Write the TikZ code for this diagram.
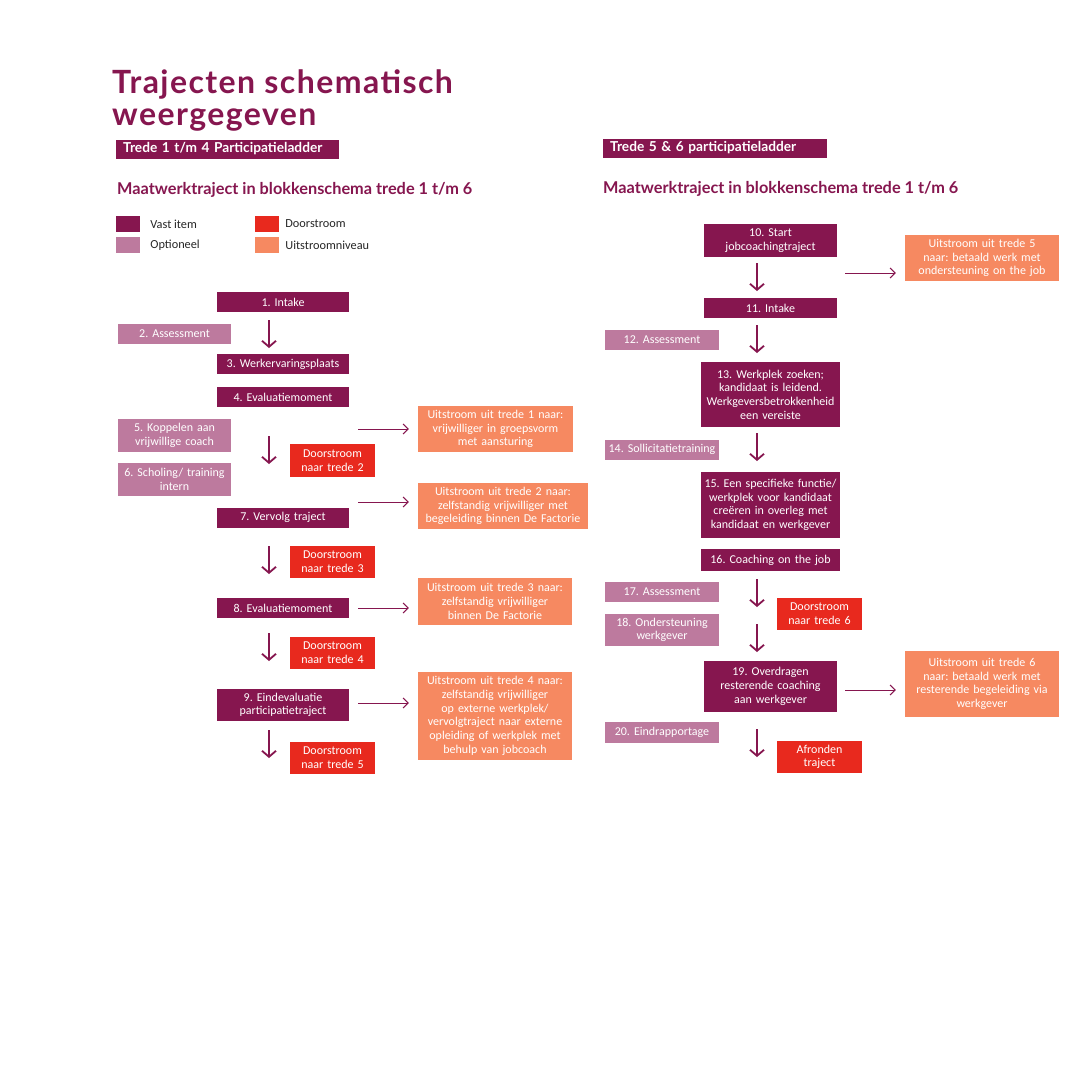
\documentclass[tikz,border=0pt]{standalone}
\usepackage{fontspec}
\setmainfont{Carlito}
\newfontfamily\headfont{Lato}
\newfontfamily\titlefont{Lato}[LetterSpace=4.5]
\usetikzlibrary{arrows.meta, positioning}
\definecolor{vast}{HTML}{86164F}
\definecolor{optie}{HTML}{BD7A9E}
\definecolor{door}{HTML}{E8291E}
\definecolor{uit}{HTML}{F68961}
\tikzset{
  box/.style={inner sep=0pt, align=center, text=white, font=\fontsize{12}{13.7}\selectfont},
  vast/.style={box, fill=vast},
  opt/.style={box, fill=optie},
  door/.style={box, fill=door, text width=85pt},
  uit/.style={box, fill=uit},
  swatch/.style={inner sep=0pt, minimum width=24pt, minimum height=16pt},
  legend/.style={inner sep=0pt, text=black!85, font=\fontsize{12.3}{14}\selectfont},
  banner/.style={fill=vast, text=white, inner xsep=7pt, inner ysep=0pt, minimum height=19pt,
    align=left, font=\headfont\bfseries\fontsize{13.7}{15}\selectfont},
  heading/.style={inner sep=0pt, anchor=base west, text=vast, font=\headfont\bfseries\fontsize{16.3}{18}\selectfont},
  title/.style={inner sep=0pt, anchor=base west, text=vast, font=\titlefont\bfseries\fontsize{32}{32}\selectfont},
  down/.style={draw=vast, line width=1.8pt, -{Straight Barb[length=6pt,width=14pt]}},
  hop/.style={draw=vast, line width=1pt, shorten >=9pt, -{Straight Barb[length=5pt,width=10pt]}}
}
\begin{document}
\frenchspacing
\begin{tikzpicture}[x=1pt, y=-1pt]
  \fill[white] (0,0) rectangle (1080,1080);
  \useasboundingbox (0,0) rectangle (1080,1080);

  % Titel
  \node[title] (title1) at (112,93) {Trajecten schematisch};
  \node[title] (title2) at ([yshift=-32pt]title1.base west) {weergegeven};

  % Balken en koppen
  \node[banner, text width=209pt, anchor=west] (bannerL) at (116,149) {Trede 1 t/m 4 Participatieladder};
  \node[banner, text width=210pt, anchor=west] (bannerR) at (603,148) {Trede 5 \& 6 participatieladder};
  \node[heading] (headL) at (117,194) {Maatwerktraject in blokkenschema trede 1 t/m 6};
  \node[heading] (headR) at (603,193) {Maatwerktraject in blokkenschema trede 1 t/m 6};

  % Legenda
  \node[swatch, fill=vast] (lgvast) at (128,224) {};
  \node[swatch, fill=optie] (lgopt) at (128,245) {};
  \node[swatch, fill=door] (lgdoor) at (267,224) {};
  \node[swatch, fill=uit] (lguit) at (267,245) {};
  \node[legend, right=10pt of lgvast] {Vast item};
  \node[legend, right=10pt of lgopt] {Optioneel};
  \node[legend, right=6pt of lgdoor] {Doorstroom};
  \node[legend, right=6pt of lguit] {Uitstroomniveau};

  % Trede 1 t/m 4
  \node[vast, text width=132pt, minimum height=20pt] (s1) at (283,302) {1. Intake};
  \node[opt, text width=113pt, minimum height=20pt] (s2) at (174.5,334) {2. Assessment};
  \node[vast, text width=132pt, minimum height=20pt] (s3) at (283,364) {3. Werkervaringsplaats};
  \node[vast, text width=132pt, minimum height=20pt] (s4) at (283,397) {4. Evaluatiemoment};
  \node[opt, text width=113pt, minimum height=33pt] (s5) at (174.5,435.5) {5. Koppelen aan\\vrijwillige coach};
  \node[door, minimum height=33pt] (d2) at (332.5,460.5) {Doorstroom\\naar trede 2};
  \node[opt, text width=113pt, minimum height=33pt] (s6) at (174.5,479.5) {6. Scholing/ training\\intern};
  \node[vast, text width=132pt, minimum height=20pt] (s7) at (283,517.5) {7. Vervolg traject};
  \node[door, minimum height=32pt] (d3) at (332.5,562) {Doorstroom\\naar trede 3};
  \node[vast, text width=132pt, minimum height=20pt] (s8) at (283,608) {8. Evaluatiemoment};
  \node[door, minimum height=32pt] (d4) at (332.5,653) {Doorstroom\\naar trede 4};
  \node[vast, text width=132pt, minimum height=32pt] (s9) at (283,705) {9. Eindevaluatie\\participatietraject};
  \node[door, minimum height=32pt] (d5) at (332.5,758) {Doorstroom\\naar trede 5};

  \node[uit, text width=155pt, minimum height=46pt] (u1) at (495.5,429)
    {Uitstroom uit trede 1 naar:\\vrijwilliger in groepsvorm\\met aansturing};
  \node[uit, text width=170pt, minimum height=46pt] (u2) at (503,506)
    {Uitstroom uit trede 2 naar:\\zelfstandig vrijwilliger met\\begeleiding binnen De Factorie};
  \node[uit, text width=154pt, minimum height=47pt] (u3) at (495,601.5)
    {Uitstroom uit trede 3 naar:\\zelfstandig vrijwilliger\\binnen De Factorie};
  \node[uit, text width=154pt, minimum height=88pt] (u4) at (495,716)
    {Uitstroom uit trede 4 naar:\\zelfstandig vrijwilliger\\op externe werkplek/\\vervolgtraject naar externe\\opleiding of werkplek met\\behulp van jobcoach};

  % Trede 5 & 6
  \node[vast, text width=133pt, minimum height=33pt] (r10) at (770.5,240.5) {10. Start\\jobcoachingtraject};
  \node[vast, text width=133pt, minimum height=20pt] (r11) at (770.5,308) {11. Intake};
  \node[opt, text width=114pt, minimum height=20pt] (r12) at (662,339.5) {12. Assessment};
  \node[vast, text width=139pt, minimum height=65pt] (r13) at (770.5,394.5)
    {13. Werkplek zoeken;\\kandidaat is leidend.\\Werkgeversbetrokkenheid\\een vereiste};
  \node[opt, text width=114pt, minimum height=20pt] (r14) at (662,449.5) {14. Sollicitatietraining};
  \node[vast, text width=139pt, minimum height=66pt] (r15) at (770.5,505)
    {15. Een specifieke functie/\\werkplek voor kandidaat\\creëren in overleg met\\kandidaat en werkgever};
  \node[vast, text width=139pt, minimum height=22pt] (r16) at (770.5,560) {16. Coaching on the job};
  \node[opt, text width=114pt, minimum height=20pt] (r17) at (662,592) {17. Assessment};
  \node[door, minimum height=32pt] (d6) at (819.5,614) {Doorstroom\\naar trede 6};
  \node[opt, text width=114pt, minimum height=32pt] (r18) at (662,630) {18. Ondersteuning\\werkgever};
  \node[vast, text width=133pt, minimum height=51pt] (r19) at (770.5,686.5)
    {19. Overdragen\\resterende coaching\\aan werkgever};
  \node[opt, text width=114pt, minimum height=21pt] (r20) at (662,732.5) {20. Eindrapportage};
  \node[door, minimum height=32pt] (da) at (819.5,757) {Afronden\\traject};

  \node[uit, text width=154pt, minimum height=46pt] (u5) at (982,258)
    {Uitstroom uit trede 5\\naar: betaald werk met\\ondersteuning on the job};
  \node[uit, text width=154pt, minimum height=66pt] (u6) at (982,684)
    {Uitstroom uit trede 6\\naar: betaald werk met\\resterende begeleiding via\\werkgever};

  % Pijlen omlaag
  \coordinate (dl1) at (269,320);
  \coordinate (dl2) at (269,436);
  \coordinate (dl3) at (269,546);
  \coordinate (dl4) at (269,633);
  \coordinate (dl5) at (269,730);
  \coordinate (dr1) at (757,263);
  \coordinate (dr2) at (757,325);
  \coordinate (dr3) at (757,433);
  \coordinate (dr4) at (757,579);
  \coordinate (dr5) at (757,624);
  \coordinate (dr6) at (757,729);
  \foreach \c in {dl1,dl2,dl3,dl4,dl5,dr1,dr2,dr3,dr4,dr5,dr6}
    \draw[down] (\c) -- ++(0,28);

  % Pijlen naar uitstroom
  \coordinate (hl1) at (358,429);
  \coordinate (hl2) at (358,502);
  \coordinate (hl3) at (358,608);
  \coordinate (hl4) at (358,703);
  \coordinate (hr1) at (845,273);
  \coordinate (hr2) at (845,690);
  \draw[hop] (hl1) -- (hl1 -| u1.west);
  \draw[hop] (hl2) -- (hl2 -| u2.west);
  \draw[hop] (hl3) -- (hl3 -| u3.west);
  \draw[hop] (hl4) -- (hl4 -| u4.west);
  \draw[hop] (hr1) -- (hr1 -| u5.west);
  \draw[hop] (hr2) -- (hr2 -| u6.west);
\end{tikzpicture}
\end{document}
